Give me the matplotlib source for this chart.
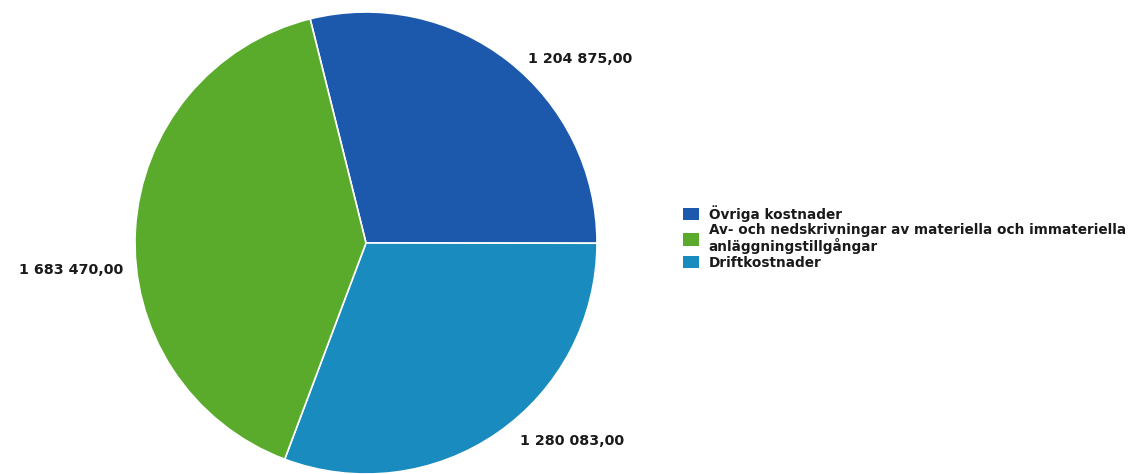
import matplotlib
matplotlib.use("Agg")
import matplotlib.pyplot as plt
from matplotlib.patches import Patch

categories = ["Övriga kostnader",
              "Av- och nedskrivningar av materiella och immateriella\nanläggningstillgångar",
              "Driftkostnader"]
values = [1204875.00, 1683470.00, 1280083.00]
colors = ["#1c58ab", "#5aab2c", "#1a8bbf"]

def fmt(v):
    s = f"{v:,.2f}"
    return s.replace(",", " ").replace(".", ",")

W, H = 1128, 474
fig = plt.figure(figsize=(W / 100, H / 100), dpi=100)
cx, cy, r = 366, 243, 231
ax = fig.add_axes([(cx - r) / W, (H - cy - r) / H, 2 * r / W, 2 * r / H])

# order clockwise: Övriga, Drift, green
order = [0, 2, 1]
wedges, texts = ax.pie([values[i] for i in order],
                       colors=[colors[i] for i in order],
                       labels=[fmt(values[i]) for i in order],
                       startangle=104, counterclock=False,
                       labeldistance=1.07,
                       wedgeprops=dict(edgecolor="white", linewidth=1.2),
                       textprops=dict(fontsize=10.3, fontweight="bold", color="#1a1a1a"))
# small label nudges to match the original label placement
nudges = [(0.04, -0.045), (0.057, 0.022), (0.017, -0.18)]
for t, (dx, dy) in zip(texts, nudges):
    x, y = t.get_position()
    t.set_position((x + dx, y + dy))
ax.set_xlim(-1, 1)
ax.set_ylim(-1, 1)
ax.set_aspect("equal")
ax.axis("off")

handles = [Patch(facecolor=colors[i], edgecolor="none") for i in range(3)]
leg = fig.legend(handles, categories, loc="upper left",
                 bbox_to_anchor=(683 / W, 1 - 205 / H),
                 frameon=False, fontsize=9.8, handlelength=1.15, handleheight=1.0,
                 handletextpad=0.75, labelspacing=0.12, borderaxespad=0, borderpad=0)
for t in leg.get_texts():
    t.set_fontweight("bold")
    t.set_color("#1a1a1a")
    t.set_linespacing(1.05)

fig.savefig("out.png", dpi=100)
